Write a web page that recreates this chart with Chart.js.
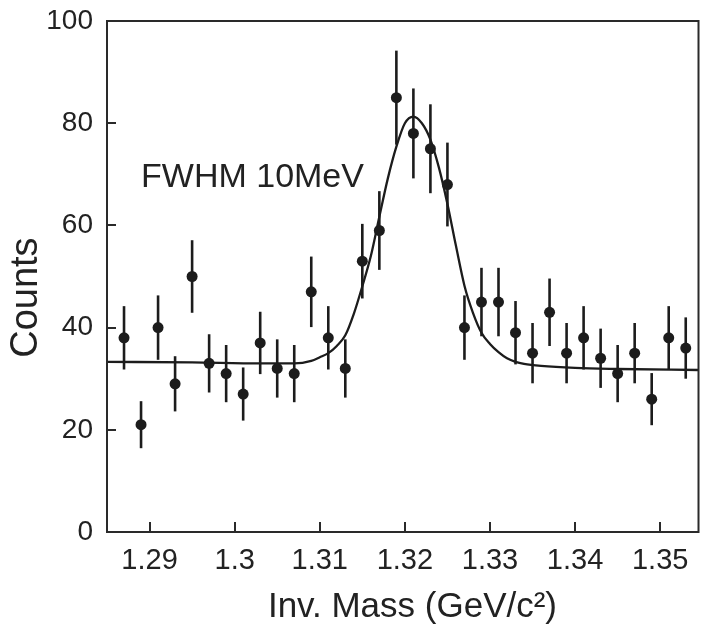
<!DOCTYPE html>
<html>
<head>
<meta charset="utf-8">
<script src="https://cdn.jsdelivr.net/npm/chart.js@4.4.0/dist/chart.umd.min.js"></script>
<style>
  body { margin: 0; background: #fff; }
  #chart { width: 704px; height: 624px; }
</style>
</head>
<body>
<div id="chart"><canvas id="myChart" width="704" height="624"></canvas></div>
<script>
// bin centres (GeV/c^2)
const massBins = [1.287, 1.289, 1.291, 1.293, 1.295, 1.297, 1.299, 1.301, 1.303, 1.305,
                  1.307, 1.309, 1.311, 1.313, 1.315, 1.317, 1.319, 1.321, 1.323, 1.325,
                  1.327, 1.329, 1.331, 1.333, 1.335, 1.337, 1.339, 1.341, 1.343, 1.345,
                  1.347, 1.349, 1.351, 1.353];
const counts = [38, 21, 40, 29, 50, 33, 31, 27, 37, 32,
                31, 47, 38, 32, 53, 59, 85, 78, 75, 68,
                40, 45, 45, 39, 35, 43, 35, 38, 34, 31,
                35, 26, 38, 36];
const countErrors = [6.2, 4.6, 6.3, 5.4, 7.1, 5.7, 5.6, 5.2, 6.1, 5.7,
                     5.6, 6.9, 6.2, 5.7, 7.3, 7.7, 9.2, 8.8, 8.7, 8.2,
                     6.3, 6.7, 6.7, 6.2, 5.9, 6.6, 5.9, 6.2, 5.8, 5.6,
                     5.9, 5.1, 6.2, 6.0];

// fit curve
const fitX = [1.285, 1.295, 1.303, 1.307, 1.309, 1.310, 1.311, 1.312, 1.313, 1.314,
              1.315, 1.316, 1.317, 1.318, 1.319, 1.320, 1.321, 1.322, 1.323, 1.324,
              1.325, 1.326, 1.327, 1.328, 1.329, 1.330, 1.331, 1.332, 1.333, 1.334,
              1.336, 1.340, 1.345, 1.3545];
const fitY = [33.3, 33.2, 33.0, 33.0, 33.5, 34.2, 35.0, 36.4, 38.5, 42.7,
              48.1, 54.0, 61.7, 69.2, 75.4, 80.0, 81.3, 80.0, 76.8, 71.3,
              64.2, 56.0, 48.2, 42.9, 39.0, 36.8, 35.2, 34.0, 33.3, 32.9,
              32.5, 32.1, 31.9, 31.7];

const xTicks = [1.29, 1.30, 1.31, 1.32, 1.33, 1.34, 1.35];
const yTicks = [0, 20, 40, 60, 80, 100];

const note = { text: 'FWHM 10MeV', x: 1.2890, y: 67.5 };

const ink = '#1c1c1c';
const fontFamily = '"Liberation Sans", Arial, Helvetica, sans-serif';

const frameAndBars = {
    id: 'frameAndBars',
    beforeDatasetsDraw(chart) {
        const ctx = chart.ctx;
        const xs = chart.scales.x, ys = chart.scales.y;
        ctx.save();
        ctx.strokeStyle = ink;
        ctx.lineWidth = 2.6;
        for (let i = 0; i < counts.length; i++) {
            const px = xs.getPixelForValue(massBins[i]);
            ctx.beginPath();
            ctx.moveTo(px, ys.getPixelForValue(counts[i] - countErrors[i]));
            ctx.lineTo(px, ys.getPixelForValue(counts[i] + countErrors[i]));
            ctx.stroke();
        }
        ctx.restore();
    },
    afterDraw(chart) {
        const ctx = chart.ctx;
        const a = chart.chartArea;
        const xs = chart.scales.x, ys = chart.scales.y;
        ctx.save();
        ctx.strokeStyle = '#2a2a2a';
        ctx.lineWidth = 2;
        ctx.strokeRect(a.left, a.top, a.right - a.left, a.bottom - a.top);
        ctx.beginPath();
        xTicks.forEach(v => {
            const px = Math.round(xs.getPixelForValue(v));
            ctx.moveTo(px, a.bottom);
            ctx.lineTo(px, a.bottom - 10);
        });
        yTicks.forEach(v => {
            const py = Math.round(ys.getPixelForValue(v));
            ctx.moveTo(a.left, py);
            ctx.lineTo(a.left + 9, py);
        });
        ctx.stroke();
        // label inside the plot
        ctx.fillStyle = '#222';
        ctx.font = '34px ' + fontFamily;
        ctx.textBaseline = 'alphabetic';
        ctx.fillText(note.text, xs.getPixelForValue(note.x), ys.getPixelForValue(note.y));
        ctx.restore();
    }
};

new Chart('myChart', {
    type: 'scatter',
    data: {
        datasets: [{
            label: 'data',
            data: massBins.map((m, i) => ({ x: m, y: counts[i] })),
            pointRadius: 5.5,
            pointHoverRadius: 5.5,
            backgroundColor: ink,
            borderColor: ink,
            borderWidth: 0
        }, {
            label: 'fit',
            data: fitX.map((m, i) => ({ x: m, y: fitY[i] })),
            showLine: true,
            pointRadius: 0,
            borderColor: ink,
            borderWidth: 2.3,
            cubicInterpolationMode: 'monotone',
            fill: false
        }]
    },
    options: {
        responsive: false,
        animation: false,
        layout: { padding: { left: 0, right: 5, top: 21, bottom: 0 } },
        scales: {
            x: {
                type: 'linear',
                min: 1.285,
                max: 1.3545,
                grid: { display: false, drawTicks: false },
                border: { display: false },
                afterBuildTicks: scale => { scale.ticks = xTicks.map(v => ({ value: v })); },
                afterFit: scale => {
                    scale.height = 92;
                    scale.paddingLeft = 0;
                    scale.paddingRight = 0;
                },
                ticks: {
                    color: '#222',
                    padding: 12,
                    maxRotation: 0,
                    autoSkip: false,
                    font: { family: fontFamily, size: 29 },
                    callback: v => String(+v.toFixed(3))
                },
                title: {
                    display: true,
                    // leading spaces nudge the title right, as in the original
                    text: '  Inv. Mass (GeV/c²)',
                    color: '#222',
                    padding: { top: 0, bottom: -4 },
                    font: { family: fontFamily, size: 35 }
                }
            },
            y: {
                min: 0,
                max: 100,
                grid: { display: false, drawTicks: false },
                border: { display: false },
                afterBuildTicks: scale => { scale.ticks = yTicks.map(v => ({ value: v })); },
                afterFit: scale => {
                    scale.width = 107;
                    scale.paddingTop = 0;
                    scale.paddingBottom = 0;
                },
                ticks: {
                    color: '#222',
                    padding: 14,
                    font: { family: fontFamily, size: 28 }
                },
                title: {
                    display: true,
                    // trailing spaces push the word down a little, like the original
                    text: 'Counts    ',
                    color: '#222',
                    padding: { top: 4, bottom: 0 },
                    font: { family: fontFamily, size: 38 }
                }
            }
        },
        plugins: {
            legend: { display: false },
            tooltip: { enabled: false }
        }
    },
    plugins: [frameAndBars]
});
</script>
</body>
</html>
